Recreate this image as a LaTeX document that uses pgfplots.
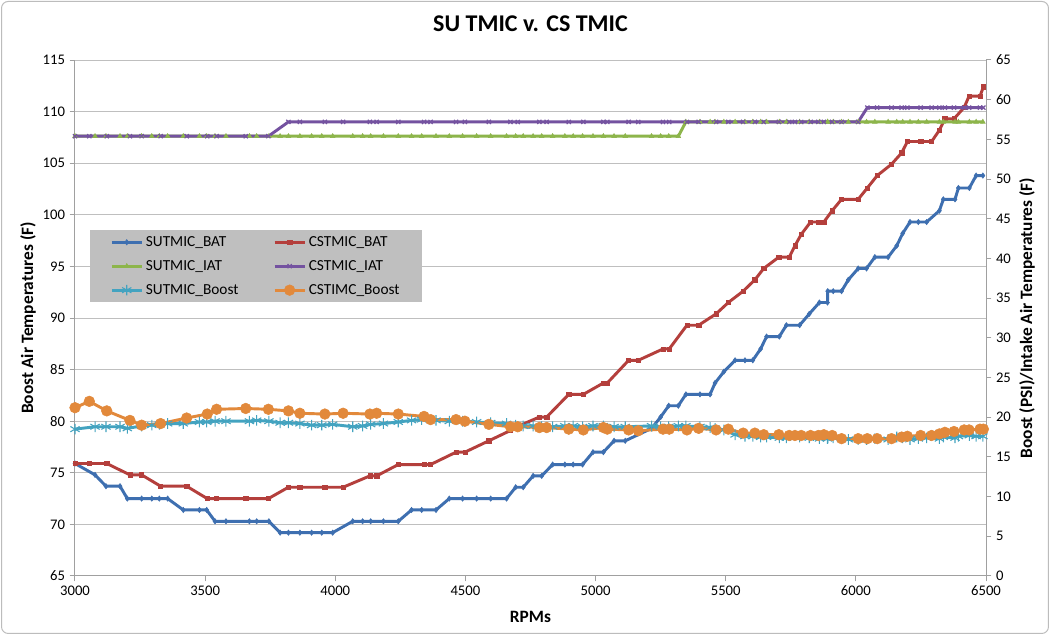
\documentclass[border=0pt]{standalone}
\usepackage{fontspec}
\setmainfont{Carlito}
\usepackage{pgfplots}
\usepackage{pgfplotstable}
\pgfplotsset{compat=1.18}
\definecolor{cBlue}{HTML}{3E6FB0}
\definecolor{cRed}{HTML}{B43F3C}
\definecolor{cGreen}{HTML}{8DB54B}
\definecolor{cPurple}{HTML}{7452A0}
\definecolor{cTeal}{HTML}{43A3C0}
\definecolor{cOrange}{HTML}{E2893B}
\definecolor{cGrid}{HTML}{BFBFBF}
\definecolor{cAxis}{HTML}{A0A0A0}

\pgfplotstableread{
rpm bat iat boost
3000 75.9 55.4 18.5
3077 74.8 55.4 18.8
3119 73.7 55.4 18.8
3173 73.7 55.4 18.8
3201 72.5 55.4 18.6
3256 72.5 55.4 18.9
3295 72.5 55.4 19.0
3324 72.5 55.4 19.1
3356 72.5 55.4 19.2
3416 71.4 55.4 19.2
3478 71.4 55.4 19.4
3506 71.4 55.4 19.4
3538 70.3 55.4 19.5
3580 70.3 55.4 19.5
3670 70.3 55.4 19.5
3698 70.3 55.4 19.6
3745 70.3 55.4 19.5
3788 69.2 55.4 19.3
3820 69.2 55.4 19.3
3864 69.2 55.4 19.2
3909 69.2 55.4 19.0
3948 69.2 55.4 19.0
3990 69.2 55.4 19.1
4067 70.3 55.4 18.8
4105 70.3 55.4 18.9
4136 70.3 55.4 19.1
4185 70.3 55.4 19.2
4242 70.3 55.4 19.4
4293 71.4 55.4 19.6
4332 71.4 55.4 19.7
4387 71.4 55.4 19.6
4438 72.5 55.4 19.5
4489 72.5 55.4 19.5
4543 72.5 55.4 19.4
4597 72.5 55.4 19.3
4658 72.5 55.4 19.2
4693 73.6 55.4 19.0
4722 73.6 55.4 18.9
4760 74.7 55.4 18.9
4793 74.7 55.4 18.8
4835 75.8 55.4 18.8
4882 75.8 55.4 18.9
4914 75.8 55.4 18.9
4950 75.8 55.4 18.8
4990 77.0 55.4 18.9
5030 77.0 55.4 18.9
5071 78.1 55.4 18.8
5114 78.1 55.4 18.8
5215 79.3 55.4 18.9
5250 80.4 55.4 18.8
5281 81.5 55.4 18.8
5318 81.5 55.4 18.9
5347 82.6 57.2 18.9
5401 82.6 57.2 18.8
5440 82.6 57.2 18.7
5459 83.7 57.2 18.6
5493 84.8 57.2 18.4
5536 85.9 57.2 17.8
5574 85.9 57.2 17.6
5604 85.9 57.2 17.6
5634 87.0 57.2 17.5
5657 88.2 57.2 17.5
5706 88.2 57.2 17.4
5733 89.3 57.2 17.4
5784 89.3 57.2 17.5
5821 90.4 57.2 17.4
5860 91.5 57.2 17.3
5891 91.5 57.2 17.3
5892 92.6 57.2 17.4
5913 92.6 57.2 17.4
5945 92.6 57.2 17.3
5971 93.7 57.2 17.2
6009 94.8 57.2 17.2
6041 94.8 57.2 17.2
6073 95.9 57.2 17.3
6124 95.9 57.2 17.2
6157 97.0 57.2 17.5
6180 98.2 57.2 17.4
6208 99.3 57.2 17.2
6240 99.3 57.2 17.3
6272 99.3 57.2 17.4
6321 100.4 57.2 17.3
6336 101.5 57.2 17.5
6381 101.5 57.2 17.4
6394 102.6 57.2 17.6
6436 102.6 57.2 17.7
6462 103.8 57.2 17.6
6488 103.8 57.2 17.6
}\sutable

\pgfplotstableread{
rpm bat iat boost
3000 75.9 55.4 21.2
3055 75.9 55.4 22.0
3122 75.9 55.4 20.8
3211 74.8 55.4 19.6
3256 74.8 55.4 19.0
3329 73.7 55.4 19.2
3429 73.7 55.4 19.9
3508 72.5 55.4 20.4
3544 72.5 55.4 21.0
3656 72.5 55.4 21.1
3743 72.5 55.4 21.0
3820 73.6 57.2 20.8
3864 73.6 57.2 20.5
3960 73.6 57.2 20.4
4030 73.6 57.2 20.5
4133 74.7 57.2 20.4
4159 74.7 57.2 20.5
4242 75.8 57.2 20.4
4341 75.8 57.2 20.1
4366 75.8 57.2 19.7
4464 77.0 57.2 19.7
4498 77.0 57.2 19.5
4590 78.1 57.2 19.1
4673 79.1 57.2 18.8
4701 79.5 57.2 18.8
4784 80.4 57.2 18.7
4812 80.4 57.2 18.7
4897 82.6 57.2 18.5
4953 82.6 57.2 18.4
5030 83.7 57.2 18.7
5045 83.7 57.2 18.5
5127 85.9 57.2 18.4
5164 85.9 57.2 18.3
5259 87.0 57.2 18.5
5283 87.0 57.2 18.5
5351 89.3 57.2 18.4
5396 89.3 57.2 18.6
5463 90.4 57.2 18.4
5510 91.5 57.2 18.5
5567 92.6 57.2 18.0
5612 93.7 57.2 18.0
5646 94.8 57.2 17.8
5704 95.9 57.2 17.8
5744 95.9 57.2 17.7
5766 97.0 57.2 17.7
5790 98.1 57.2 17.7
5826 99.3 57.2 17.7
5856 99.3 57.2 17.7
5877 99.3 57.2 17.8
5909 100.4 57.2 17.7
5945 101.5 57.2 17.3
6009 101.5 57.2 17.3
6044 102.6 59.0 17.3
6082 103.8 59.0 17.3
6137 104.9 59.0 17.3
6176 106.0 59.0 17.5
6198 107.1 59.0 17.6
6249 107.1 59.0 17.7
6291 107.1 59.0 17.7
6321 108.2 59.0 17.9
6342 109.3 59.0 18.1
6377 109.3 59.0 18.2
6416 110.4 59.0 18.4
6435 111.5 59.0 18.4
6477 111.5 59.0 18.5
6490 112.4 59.0 18.5
}\cstable

\pgfplotsset{
  base/.style={
    width=683.25pt, height=387pt, scale only axis,
    xmin=3000, xmax=6500, xtick={3000,3500,...,6500},
    ticklabel style={font=\fontsize{11}{13}\selectfont},
    /pgf/number format/assume math mode=true,
    /pgf/number format/1000 sep={},
    tick align=outside, major tick length=4pt,
    tick style={cAxis, line width=0.75pt},
    axis line style={cAxis, line width=0.75pt},
    label style={font=\fontsize{13}{15}\selectfont\bfseries},
  },
  batstyle/.style={line width=2.2pt, mark options={solid, line width=0.4pt}},
}

\begin{document}
\begin{tikzpicture}
\useasboundingbox (-56.25pt,-44.25pt) rectangle (731.25pt,432pt);
\fill[white] (-56.25pt,-44.25pt) rectangle (731.25pt,432pt);
\begin{axis}[base,
  ymin=65, ymax=115, ytick={65,70,...,115},
  axis x line*=bottom, axis y line*=left,
  ymajorgrids, grid style={cGrid, line width=0.75pt},
  xlabel={RPMs},
  xlabel style={at={(axis description cs:0.5,-0.0795)}, anchor=center},
  ylabel={Boost Air Temperatures (F)},
  ylabel style={at={(axis description cs:-0.0516,0.5)}, anchor=center},
  title={SU TMIC v. CS TMIC},
  title style={at={(axis description cs:0.5,1.054)}, anchor=center, font=\fontsize{18}{22}\selectfont\bfseries},
]
\addplot[cBlue, batstyle, mark=diamond*, mark size=2pt] table[x=rpm, y=bat] {\sutable};
\addplot[cRed, batstyle, mark=square*, mark size=1.6pt] table[x=rpm, y=bat] {\cstable};
\end{axis}
\begin{axis}[base,
  ymin=0, ymax=65, ytick={0,5,...,65},
  axis y line*=right, axis x line=none,
  ylabel={Boost (PSI)/Intake Air Temperatures (F)},
  ylabel style={at={(axis description cs:1.045,0.5)}, anchor=center},
  legend columns=2,
  legend cell align=left,
  legend image code/.code={\draw[mark repeat=2,mark phase=2,#1] plot coordinates {(0pt,0pt) (11.25pt,0pt) (22.5pt,0pt)};},
  legend style={at={(axis description cs:0.0165,0.6705)}, anchor=north west,
    fill=cGrid, draw=none, font=\fontsize{11.5}{13.5}\selectfont,
    inner xsep=15pt, inner ysep=2.5pt, row sep=5pt,
    /tikz/every even column/.append style={column sep=24pt}},
]
\addlegendimage{cBlue, batstyle, mark=diamond*, mark size=2pt}
\addlegendentry{SUTMIC\_BAT}
\addlegendimage{cRed, batstyle, mark=square*, mark size=1.6pt}
\addlegendentry{CSTMIC\_BAT}
\addplot[cGreen, line width=2.2pt, mark=triangle*, mark size=2pt, mark options={solid,line width=0.4pt}] table[x=rpm, y=iat] {\sutable};
\addlegendentry{SUTMIC\_IAT}
\addplot[cPurple, line width=2.2pt, mark=x, mark size=2.2pt, mark options={solid,line width=0.9pt}] table[x=rpm, y=iat] {\cstable};
\addlegendentry{CSTMIC\_IAT}
\addplot[cTeal, line width=2.2pt, mark=asterisk, mark size=4pt, mark options={solid,line width=0.8pt}] table[x=rpm, y=boost] {\sutable};
\addlegendentry{SUTMIC\_Boost}
\addplot[cOrange, line width=2.2pt, mark=*, mark size=4pt, mark options={solid,line width=0.4pt}] table[x=rpm, y=boost] {\cstable};
\addlegendentry{CSTIMC\_Boost}
\end{axis}
\draw[cAxis!70, line width=0.75pt, rounded corners=5pt] (-55.1pt,-43.1pt) rectangle (730.1pt,430.9pt);
\end{tikzpicture}
\end{document}
